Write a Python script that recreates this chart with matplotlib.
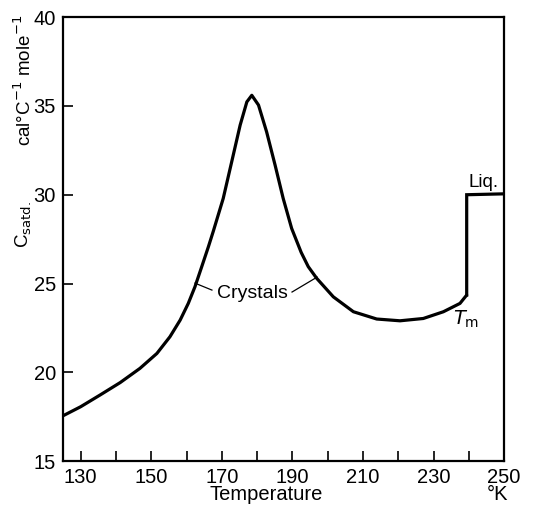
import matplotlib
matplotlib.use('Agg')
import matplotlib.pyplot as plt

plt.rcParams['font.family'] = ['Liberation Sans', 'DejaVu Sans']

# crystal branch
temp_cryst = [125.0, 130.0, 135.5, 141.2, 146.8, 151.6, 155.3, 158.2, 160.5, 162.4,
              164.3, 166.2, 167.6, 170.4, 172.8, 175.2, 177.1, 178.5, 180.4, 182.7,
              185.1, 187.4, 189.8, 192.5, 194.5, 196.9, 201.6, 207.3, 213.9, 220.5,
              227.1, 232.8, 237.5, 239.4]
c_cryst = [17.55, 18.06, 18.72, 19.42, 20.22, 21.06, 22.0, 22.94, 23.88, 24.82,
           25.94, 27.07, 27.95, 29.79, 31.85, 33.92, 35.23, 35.6, 35.05, 33.54,
           31.67, 29.79, 28.1, 26.75, 25.95, 25.29, 24.25, 23.41, 23.0, 22.9,
           23.03, 23.41, 23.88, 24.35]

# melting jump and liquid branch
temp_liq = [239.4, 239.4, 250]
c_liq = [24.35, 30.0, 30.05]

xticks = [130, 140, 150, 160, 170, 180, 190, 200, 210, 220, 230, 240, 250]
xlabels = ['130', '', '150', '', '170', '', '190', '', '210', '', '230', '', '250']
yticks = [15, 20, 25, 30, 35, 40]

fig = plt.figure(figsize=(5.34, 5.05), dpi=100)
ax = fig.add_axes([0.118, 0.087, 0.826, 0.879])

ax.plot(temp_cryst, c_cryst, color='black', lw=2.3, solid_capstyle='round',
        solid_joinstyle='round')
ax.plot(temp_liq, c_liq, color='black', lw=2.3, solid_joinstyle='miter')

ax.set_xlim(125, 250)
ax.set_ylim(15, 40)
ax.set_xticks(xticks)
ax.set_xticklabels(xlabels)
ax.set_yticks(yticks)
ax.tick_params(direction='in', length=7, width=1.2, labelsize=14.5)
ax.tick_params(axis='x', pad=5)
ax.tick_params(axis='y', pad=5)
for s in ax.spines.values():
    s.set_linewidth(1.6)

# axis texts
ax.text(182.5, 13.1, 'Temperature', ha='center', va='center', fontsize=14.5)
ax.text(248.2, 13.1, '°K', ha='center', va='center', fontsize=14.5)
fig.text(0.045, 0.84, 'cal°C$^{-1}$ mole$^{-1}$', rotation=90, ha='center', va='center', fontsize=13.5)
fig.text(0.045, 0.555, 'C$_{\\rm satd.}$', rotation=90, ha='center', va='center', fontsize=13.5)

# annotations
ax.text(178.6, 24.45, 'Crystals', ha='center', va='center', fontsize=14)
ax.plot([162.4, 167.2], [25.02, 24.63], color='black', lw=0.9)
ax.plot([189.9, 197.0], [24.52, 25.36], color='black', lw=0.9)
ax.text(244.3, 30.7, 'Liq.', ha='center', va='center', fontsize=13.5)
ax.text(239.2, 23.0, '$T_{\\rm m}$', ha='center', va='center', fontsize=14)

fig.savefig('out.png', dpi=100)
